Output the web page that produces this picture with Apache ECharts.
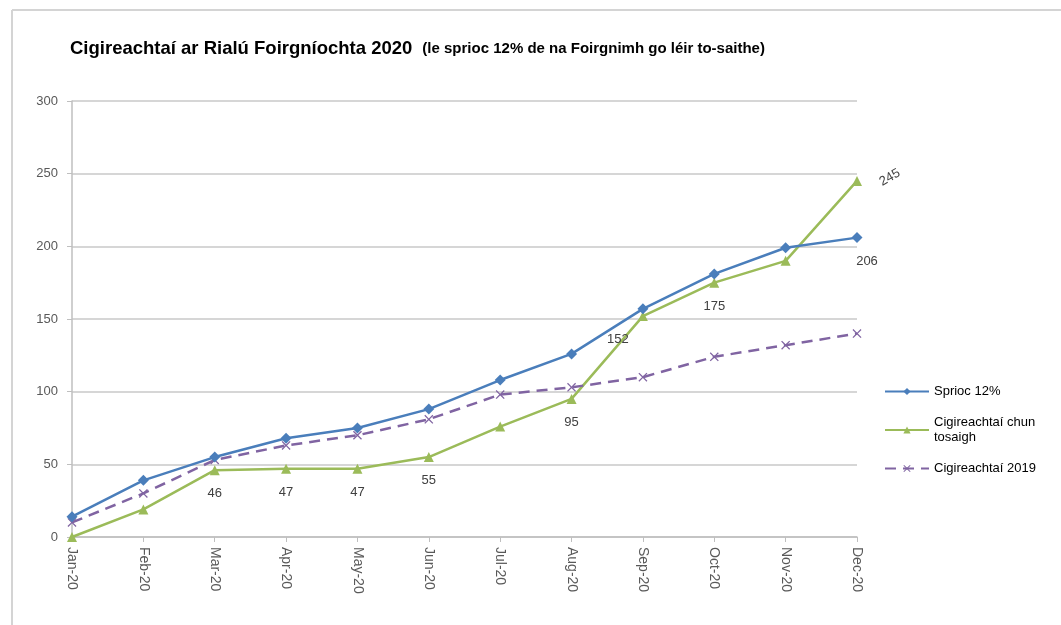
<!DOCTYPE html>
<html>
<head>
<meta charset="utf-8">
<script src="https://cdn.jsdelivr.net/npm/echarts@6/dist/echarts.min.js"></script>
<style>
  html, body { margin: 0; padding: 0; background: #fff; }
  #chart { width: 1061px; height: 625px; }
</style>
</head>
<body>
<div id="chart"></div>
<script>
const months = ["Jan-20", "Feb-20", "Mar-20", "Apr-20", "May-20", "Jun-20",
  "Jul-20", "Aug-20", "Sep-20", "Oct-20", "Nov-20", "Dec-20"];
const target = [14, 39, 55, 68, 75, 88, 108, 126, 157, 181, 199, 206];
const actual = [0, 19, 46, 47, 47, 55, 76, 95, 152, 175, 190, 245];
const lastYear = [10, 30, 53, 63, 70, 81, 98, 103, 110, 124, 132, 140];

// which points carry a value label
const actualLabelled = [2, 3, 4, 5, 7, 8, 9, 11];
const targetLabelled = [11];

const labelFont = { color: "#404040", fontSize: 13, fontFamily: "Liberation Sans" };

function withLabels(values, shown, special) {
  return values.map((v, i) => {
    if (shown.indexOf(i) < 0) return v;
    let label = Object.assign({ show: true, position: "bottom", distance: 12 }, labelFont);
    if (special[i]) Object.assign(label, special[i]);
    return { value: v, label: label };
  });
}

const crossPath = "path://M0,1L1,0L5,4L9,0L10,1L6,5L10,9L9,10L5,6L1,10L0,9L4,5Z";

let dom = document.getElementById("chart");
let myChart = echarts.init(dom, null, { renderer: "canvas" });

let option = {
  backgroundColor: "#fff",
  animation: false,
  title: {
    left: 65,
    top: 34,
    text: "{a|Cigireachtaí ar Rialú Foirgníochta 2020}  {b|(le sprioc 12% de na Foirgnimh go léir to-saithe)}",
    textStyle: {
      rich: {
        a: { fontSize: 18.5, fontWeight: "bold", color: "#000", fontFamily: "Liberation Sans" },
        b: { fontSize: 15, fontWeight: "bold", color: "#000", fontFamily: "Liberation Sans" }
      }
    }
  },
  graphic: [
    { type: "line", shape: { x1: 12, y1: 10, x2: 1061, y2: 10 }, style: { stroke: "#d4d4d4", lineWidth: 2 } },
    { type: "line", shape: { x1: 12, y1: 10, x2: 12, y2: 625 }, style: { stroke: "#d4d4d4", lineWidth: 2 } }
  ],
  legend: {
    orient: "vertical",
    left: 879,
    top: 379,
    itemWidth: 44,
    itemHeight: 9,
    itemGap: 16,
    textStyle: { color: "#000", fontSize: 13, lineHeight: 15, fontFamily: "Liberation Sans" },
    formatter: (name) => name === "Cigireachtaí chun tosaigh" ? "Cigireachtaí chun\ntosaigh" : name,
    data: ["Sprioc 12%", "Cigireachtaí chun tosaigh", "Cigireachtaí 2019"]
  },
  grid: { left: 72, right: 204, top: 101, bottom: 88 },
  xAxis: {
    type: "category",
    boundaryGap: false,
    data: months,
    axisLine: { lineStyle: { color: "#bfbfbf", width: 1.5 } },
    axisTick: { show: true, length: 5, lineStyle: { color: "#bfbfbf" } },
    axisLabel: { rotate: -90, margin: 10, color: "#595959", fontSize: 14, fontFamily: "Liberation Sans" }
  },
  yAxis: {
    type: "value",
    min: 0,
    max: 300,
    interval: 50,
    axisLine: { show: true, lineStyle: { color: "#bfbfbf", width: 1.5 } },
    axisTick: { show: true, length: 5, lineStyle: { color: "#bfbfbf" } },
    axisLabel: { margin: 14, color: "#595959", fontSize: 13, fontFamily: "Liberation Sans" },
    splitLine: { lineStyle: { color: "#c8c8c8", width: 1.5 } }
  },
  series: [
    {
      name: "Sprioc 12%",
      type: "line",
      data: withLabels(target, targetLabelled, { 11: { offset: [10, 0] } }),
      symbol: "diamond",
      symbolSize: 11,
      lineStyle: { color: "#4a7ebb", width: 2.5 },
      itemStyle: { color: "#4a7ebb" },
      z: 3
    },
    {
      name: "Cigireachtaí chun tosaigh",
      type: "line",
      data: withLabels(actual, actualLabelled, {
        8: { offset: [-25, 0] },
        11: { position: "right", rotate: 30, distance: 8, offset: [8, 7] }
      }),
      symbol: "triangle",
      symbolSize: 10,
      lineStyle: { color: "#9bbb59", width: 2.5 },
      itemStyle: { color: "#9bbb59" },
      z: 2
    },
    {
      name: "Cigireachtaí 2019",
      type: "line",
      data: lastYear,
      symbol: crossPath,
      symbolSize: 9,
      lineStyle: { color: "#8064a2", width: 2.5, type: [11, 7] },
      itemStyle: { color: "#8064a2" },
      z: 2
    }
  ]
};

if (option && typeof option === "object") {
  myChart.setOption(option);
}
window.addEventListener("resize", myChart.resize);
</script>
</body>
</html>
